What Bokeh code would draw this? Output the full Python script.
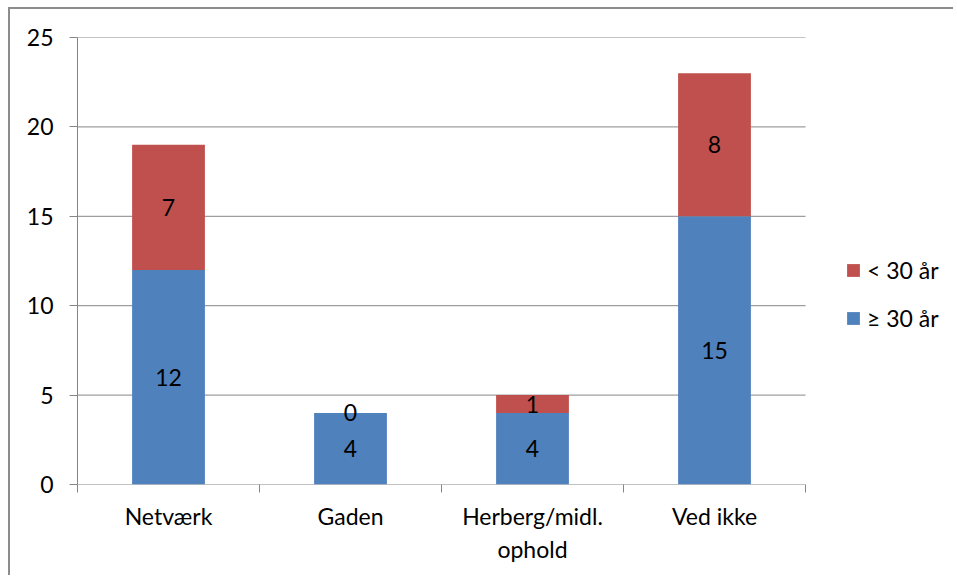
import numpy as np
from bokeh.plotting import figure
from bokeh.models import (ColumnDataSource, Range1d, FixedTicker, LabelSet, Legend, LegendItem)
from bokeh.core.properties import value
from bokeh.embed import file_html
from bokeh.resources import INLINE

categories = ["Netværk", "Gaden", "Herberg/midl.\nophold", "Ved ikke"]
older = [12, 4, 4, 15]     # ≥ 30 år
younger = [7, 0, 1, 8]     # < 30 år
series_names = ["≥ 30 år", "< 30 år"]
y_ticks = [0, 5, 10, 15, 20, 25]

BLUE = "#4F81BD"
RED = "#C0504D"
GRID = "#868686"
FONT = "Lato"
FS = "23px"

W, H = 945, 568
BL, BT, BR, BB = 67, 28, 5, 93
frame_w = W - BL - BR
cat_px = 728.0  # plot area width for the categories
n = len(categories)

xpos = list(np.arange(n) + 0.5)
older_mid = [o / 2 for o in older]
younger_mid = [o + y / 2 for o, y in zip(older, younger)]
src = ColumnDataSource(dict(x=xpos, older=older, younger=younger,
                            older_mid=older_mid, younger_mid=younger_mid,
                            older_txt=[str(v) for v in older],
                            younger_txt=[str(v) for v in younger]))

p = figure(width=W, height=H, output_backend="svg", toolbar_location=None,
           x_range=Range1d(0, n * frame_w / cat_px), y_range=Range1d(0, 25),
           min_border_left=BL, min_border_top=BT, min_border_right=BR, min_border_bottom=BB)
p.outline_line_color = None
p.background_fill_color = "white"
p.border_fill_color = "white"
p.styles = {"border-left": "2px solid #8c8c8c", "border-top": "2px solid #8c8c8c",
            "margin-left": "8px", "margin-top": "7px"}

# gridlines limited to the category area
p.segment(x0=[0] * len(y_ticks), x1=[n] * len(y_ticks), y0=y_ticks, y1=y_ticks,
          line_color=GRID, line_width=1)

renderers = p.vbar_stack(["older", "younger"], x="x", width=0.4, color=[BLUE, RED],
                         line_color=None, source=src)

# axes
p.yaxis.ticker = FixedTicker(ticks=y_ticks)
p.yaxis.axis_line_color = GRID
p.yaxis.major_tick_line_color = GRID
p.yaxis.major_tick_out = 8
p.yaxis.major_tick_in = 0
p.yaxis.minor_tick_line_color = None
p.yaxis.major_label_text_font = FONT
p.yaxis.major_label_text_font_size = FS
p.yaxis.major_label_text_color = "black"
p.yaxis.major_label_standoff = 16

p.xaxis.ticker = FixedTicker(ticks=xpos, minor_ticks=list(range(n + 1)))
p.xaxis.major_label_overrides = {float(x): c for x, c in zip(xpos, categories)}
p.xaxis.axis_line_color = None
p.xaxis.major_tick_line_color = None
p.xaxis.major_tick_out = 0
p.xaxis.major_tick_in = 0
p.xaxis.minor_tick_line_color = GRID
p.xaxis.minor_tick_out = 8
p.xaxis.minor_tick_in = 0
p.xaxis.major_label_text_font = FONT
p.xaxis.major_label_text_font_size = FS
p.xaxis.major_label_text_color = "black"
p.xaxis.major_label_standoff = 9

p.xgrid.grid_line_color = None
p.ygrid.grid_line_color = None

for ycol, tcol in (("older_mid", "older_txt"), ("younger_mid", "younger_txt")):
    p.add_layout(LabelSet(x="x", y=ycol, text=tcol, source=src, text_align="center",
                          text_baseline="middle", text_font=value(FONT), text_font_size=value(FS),
                          text_color="black"))

legend = Legend(items=[LegendItem(label=series_names[1], renderers=[renderers[1]]),
                       LegendItem(label=series_names[0], renderers=[renderers[0]])],
                location=(768, 152), padding=0, margin=0, spacing=20,
                glyph_width=16, glyph_height=16, label_height=16, label_standoff=6,
                label_text_font=FONT, label_text_font_size=FS, label_text_color="black",
                border_line_color=None, background_fill_alpha=0)
p.add_layout(legend, "center")

open("out.html", "w").write(file_html(p, INLINE))
